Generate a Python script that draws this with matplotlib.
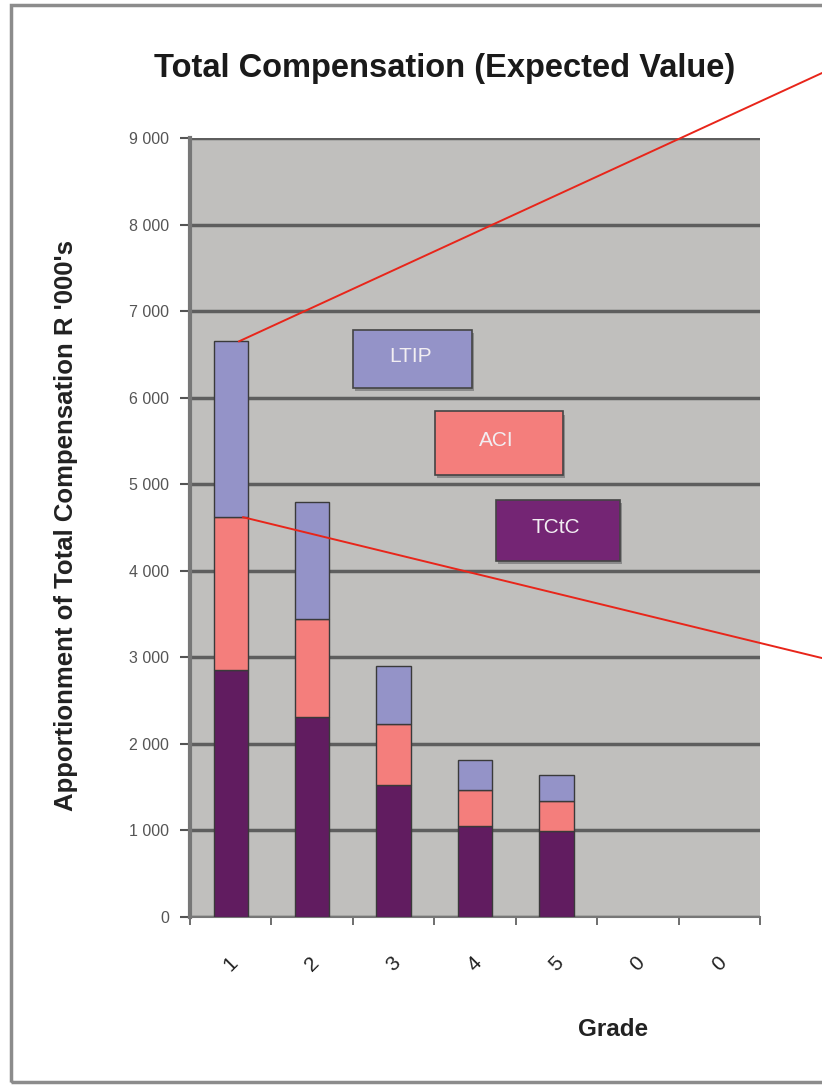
import matplotlib.pyplot as plt
from matplotlib.patches import Rectangle, ConnectionPatch
from matplotlib.ticker import FuncFormatter
import numpy as np

plt.rcParams['font.family'] = ['Liberation Sans', 'DejaVu Sans']

# Compensation components per grade (R '000s)
grades = ["1", "2", "3", "4", "5", "0", "0"]
tctc = [2850, 2310, 1520, 1050, 990, 0, 0]
aci = [1770, 1130, 710, 420, 350, 0, 0]
ltip = [2030, 1350, 670, 340, 300, 0, 0]
series_names = ["LTIP", "ACI", "TCtC"]

col_tctc = "#611c60"
col_aci = "#f47e7c"
col_ltip = "#9493c8"

fig = plt.figure(figsize=(8.22, 10.85), dpi=100)
ax = fig.add_axes([0.2311, 0.1548, 0.6935, 0.718])
ax.set_facecolor("#c0bfbd")

x = np.arange(len(grades))
w = 0.42


def stack(vals, bottom, color):
    # hide the outline of empty segments
    lw = [1.0 if v > 0 else 0 for v in vals]
    ax.bar(x, vals, w, bottom=bottom, color=color, edgecolor="#3a3a3a",
           linewidth=lw, zorder=3)


stack(tctc, 0, col_tctc)
stack(aci, tctc, col_aci)
stack(ltip, np.array(tctc) + np.array(aci), col_ltip)

ax.set_xlim(-0.5, len(grades) - 0.5)
ax.set_ylim(0, 9000)
ax.set_yticks(np.arange(0, 9001, 1000))
ax.yaxis.set_major_formatter(FuncFormatter(lambda v, p: f"{int(v):,}".replace(",", " ")))
ax.yaxis.grid(True, color="#5e5e5e", linewidth=2.5, zorder=1)
ax.set_axisbelow(True)

ax.set_xticks(x)
ax.set_xticklabels(grades, rotation=45, fontsize=15, color="#222222",
                   ha="center", va="center")
ax.set_xticks(np.arange(-0.5, len(grades), 1), minor=True)
ax.tick_params(axis="x", which="major", length=0, pad=34)
ax.tick_params(axis="x", which="minor", length=6, width=1.2, color="#555555")
ax.tick_params(axis="y", length=7, width=1.5, color="#555555", labelsize=11.5,
               labelcolor="#555555", pad=8)

for s in ["top", "right"]:
    ax.spines[s].set_visible(False)
ax.spines["left"].set_color("#777777")
ax.spines["left"].set_linewidth(3)
ax.spines["bottom"].set_color("#777777")
ax.spines["bottom"].set_linewidth(1.5)

ax.set_ylabel("Apportionment of Total Compensation R '000's", fontsize=18.5,
              fontweight="bold", color="#222222")
ax.yaxis.set_label_coords(-0.196, 0.503)

fig.text(0.541, 0.937, "Total Compensation (Expected Value)", ha="center",
         va="center", fontsize=23.5, fontweight="bold", color="#1a1a1a")
fig.text(0.746, 0.051, "Grade", ha="center", va="center", fontsize=17.5,
         fontweight="bold", color="#222222")

# label boxes inside the plot area
boxes = [
    (series_names[0], col_ltip, 0.286, 0.679, 0.209, 0.0745),
    (series_names[1], col_aci, 0.430, 0.567, 0.2246, 0.082),
    (series_names[2], "#742574", 0.537, 0.457, 0.2175, 0.078),
]
for name, c, bx, by, bw, bh in boxes:
    ax.add_patch(Rectangle((bx + 0.004, by - 0.004), bw, bh, transform=ax.transAxes,
                           facecolor="#8a8a8a", edgecolor="none", zorder=4))
    ax.add_patch(Rectangle((bx, by), bw, bh, transform=ax.transAxes,
                           facecolor=c, edgecolor="#444444", linewidth=1.2, zorder=5))
    ax.text(bx + bw * 0.48, by + bh * 0.55, name, transform=ax.transAxes,
            ha="center", va="center", fontsize=15, color="#f2eef2", zorder=6)

# red pointer lines from grade 1 stack
top1 = tctc[0] + aci[0] + ltip[0]
mid1 = tctc[0] + aci[0]
for (xa, ya), yb in [((0.1, top1), 0.9327), ((0.15, mid1), 0.3935)]:
    con = ConnectionPatch(xyA=(xa, ya), coordsA=ax.transData,
                          xyB=(1.0, yb), coordsB=fig.transFigure,
                          color="#e8251a", linewidth=1.4, zorder=10)
    fig.add_artist(con)

# outer frame
fig.add_artist(Rectangle((0.013, 0.003), 1.2, 0.992, transform=fig.transFigure,
                         facecolor="none", edgecolor="#8c8c8c", linewidth=2.5))

fig.savefig("out.png", dpi=100)
